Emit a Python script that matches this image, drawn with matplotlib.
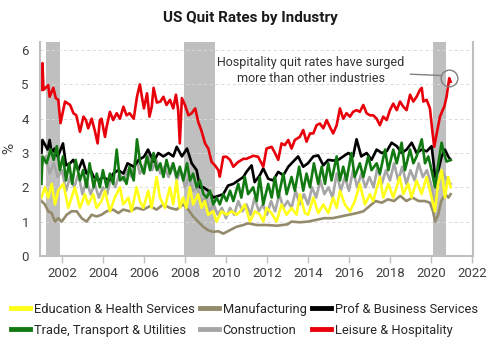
import matplotlib
matplotlib.use("Agg")
import matplotlib.pyplot as plt

plt.rcParams["font.family"] = ["Roboto", "DejaVu Sans"]

# (year, quit rate %)
leisure = [(2001.0, 4.84), (2001.05, 5.62), (2001.1, 4.84), (2001.33, 4.98), (2001.4, 4.64), (2001.58, 4.9),
           (2001.7, 4.6), (2001.82, 4.55), (2001.93, 3.87), (2002.15, 4.5), (2002.4, 4.4), (2002.56, 4.16),
           (2002.7, 4.1), (2002.88, 3.62), (2003.05, 4.06), (2003.17, 3.96), (2003.28, 3.72), (2003.45, 4.0),
           (2003.6, 3.66), (2003.74, 3.28), (2003.85, 3.96), (2003.93, 4.0), (2004.1, 3.47), (2004.18, 3.76),
           (2004.34, 4.2), (2004.5, 3.96), (2004.67, 4.16), (2004.83, 4.0), (2005.0, 4.35), (2005.15, 4.1),
           (2005.3, 4.16), (2005.5, 4.0), (2005.66, 4.64), (2005.8, 5.0), (2005.9, 4.64), (2006.0, 4.3),
           (2006.15, 4.74), (2006.27, 4.06), (2006.38, 4.35), (2006.47, 4.9), (2006.63, 4.47), (2006.8, 4.5),
           (2006.95, 4.64), (2007.1, 4.4), (2007.27, 4.55), (2007.43, 4.3), (2007.56, 4.7), (2007.67, 4.25),
           (2007.75, 3.28), (2007.85, 4.6), (2008.0, 4.4), (2008.17, 4.1), (2008.33, 4.16), (2008.5, 4.3),
           (2008.65, 3.9), (2008.8, 3.66), (2008.98, 3.28), (2009.14, 3.13), (2009.3, 2.74), (2009.46, 2.64),
           (2009.63, 2.5), (2009.7, 2.31), (2009.87, 2.89), (2010.03, 2.89), (2010.2, 2.8), (2010.36, 2.6),
           (2010.6, 2.74), (2010.85, 2.83), (2011.0, 2.83), (2011.33, 2.92), (2011.57, 2.89), (2011.82, 2.6),
           (2011.98, 3.13), (2012.23, 3.18), (2012.39, 3.0), (2012.55, 2.8), (2012.71, 3.28), (2012.87, 3.23),
           (2013.04, 3.38), (2013.2, 3.13), (2013.36, 3.38), (2013.6, 3.47), (2013.77, 3.67), (2013.93, 3.33),
           (2014.1, 3.57), (2014.26, 3.57), (2014.42, 3.81), (2014.58, 3.86), (2014.75, 3.72), (2014.91, 3.96),
           (2015.07, 3.76), (2015.23, 3.57), (2015.4, 3.81), (2015.56, 4.3), (2015.72, 4.0), (2015.88, 4.16),
           (2016.05, 4.06), (2016.2, 4.2), (2016.37, 4.25), (2016.53, 4.2), (2016.7, 4.4), (2016.86, 4.16),
           (2017.02, 4.1), (2017.18, 4.1), (2017.35, 4.0), (2017.51, 3.81), (2017.67, 4.06), (2017.84, 3.96),
           (2018.0, 4.25), (2018.16, 4.44), (2018.33, 4.25), (2018.49, 4.5), (2018.65, 4.35), (2018.81, 4.25),
           (2018.98, 4.7), (2019.14, 4.5), (2019.3, 4.64), (2019.46, 4.84), (2019.55, 4.9), (2019.63, 4.5),
           (2019.79, 4.55), (2019.95, 4.3), (2020.08, 3.57), (2020.16, 3.18), (2020.28, 3.57), (2020.44, 4.06),
           (2020.57, 4.25), (2020.65, 4.35), (2020.76, 4.64), (2020.89, 5.18), (2020.96, 5.08)]

prof_business = [(2001.0, 3.0), (2001.05, 3.38), (2001.3, 3.1), (2001.4, 3.38), (2001.5, 3.0), (2001.64, 3.13),
                 (2001.8, 2.89), (2002.05, 3.28), (2002.2, 2.64), (2002.4, 2.7), (2002.55, 2.8), (2002.8, 2.5),
                 (2003.0, 2.8), (2003.2, 2.4), (2003.4, 2.5), (2003.55, 2.3), (2003.8, 2.2), (2004.0, 2.3),
                 (2004.3, 2.2), (2004.5, 2.4), (2004.75, 2.5), (2005.0, 2.4), (2005.2, 2.7), (2005.5, 2.6),
                 (2005.75, 2.8), (2006.0, 2.89), (2006.2, 3.1), (2006.47, 2.75), (2006.7, 3.0), (2006.95, 2.9),
                 (2007.2, 3.0), (2007.43, 2.9), (2007.6, 3.18), (2007.85, 2.9), (2008.1, 3.13), (2008.33, 2.7),
                 (2008.57, 2.5), (2008.73, 2.0), (2008.9, 2.0), (2009.14, 1.9), (2009.38, 1.7), (2009.63, 1.75),
                 (2009.87, 1.8), (2010.1, 2.05), (2010.36, 2.1), (2010.6, 2.2), (2010.85, 2.3), (2011.0, 2.45),
                 (2011.25, 2.64), (2011.4, 2.15), (2011.65, 2.35), (2011.82, 2.55), (2012.06, 2.25), (2012.3, 2.2),
                 (2012.55, 2.45), (2012.8, 2.35), (2013.04, 2.6), (2013.36, 2.8), (2013.52, 2.9), (2013.77, 2.6),
                 (2014.0, 2.7), (2014.26, 2.9), (2014.5, 2.93), (2014.75, 2.64), (2014.99, 2.8), (2015.23, 2.78),
                 (2015.48, 2.8), (2015.72, 2.9), (2015.97, 3.0), (2016.2, 2.9), (2016.37, 3.4), (2016.6, 2.9),
                 (2016.86, 3.0), (2017.1, 2.8), (2017.35, 3.1), (2017.6, 3.0), (2017.84, 3.05), (2018.08, 3.3),
                 (2018.33, 3.2), (2018.57, 3.0), (2018.81, 3.1), (2019.06, 3.3), (2019.3, 3.0), (2019.55, 3.1),
                 (2019.79, 3.05), (2020.03, 3.2), (2020.11, 2.8), (2020.2, 2.3), (2020.36, 2.5), (2020.52, 2.9),
                 (2020.68, 3.1), (2020.84, 2.9), (2020.96, 2.8)]

trade = [(2001.0, 2.1), (2001.05, 2.9), (2001.25, 2.7), (2001.45, 3.1), (2001.6, 2.8), (2001.75, 3.2), (2001.9, 2.5),
         (2002.05, 2.9), (2002.2, 2.2), (2002.35, 2.7), (2002.5, 2.1), (2002.67, 2.8), (2002.88, 2.2), (2003.03, 2.5),
         (2003.2, 2.0), (2003.35, 2.7), (2003.55, 2.0), (2003.7, 2.4), (2003.85, 2.0), (2004.0, 2.5), (2004.18, 2.0),
         (2004.34, 2.4), (2004.5, 2.1), (2004.67, 3.1), (2004.83, 2.2), (2005.0, 2.3), (2005.15, 2.1), (2005.3, 2.6),
         (2005.5, 2.2), (2005.66, 3.4), (2005.82, 2.7), (2006.0, 2.4), (2006.15, 2.9), (2006.3, 2.5), (2006.47, 3.0),
         (2006.63, 2.5), (2006.8, 2.7), (2006.95, 2.3), (2007.1, 2.8), (2007.27, 2.4), (2007.43, 2.7), (2007.6, 2.3),
         (2007.75, 2.6), (2007.92, 2.2), (2008.1, 2.7), (2008.25, 2.2), (2008.4, 2.4), (2008.57, 2.0), (2008.73, 2.2),
         (2008.9, 1.8), (2009.06, 1.7), (2009.22, 1.9), (2009.38, 1.5), (2009.55, 1.7), (2009.7, 1.5), (2009.87, 1.8),
         (2010.03, 1.6), (2010.2, 1.9), (2010.36, 1.6), (2010.6, 2.1), (2010.75, 1.7), (2010.92, 2.3), (2011.08, 1.8),
         (2011.33, 2.0), (2011.5, 1.6), (2011.65, 2.3), (2011.82, 1.5), (2012.06, 2.1), (2012.23, 1.7), (2012.39, 2.3),
         (2012.55, 1.7), (2012.8, 2.4), (2012.96, 1.8), (2013.2, 2.3), (2013.36, 1.9), (2013.57, 2.6), (2013.77, 1.9),
         (2013.93, 2.4), (2014.1, 2.0), (2014.29, 2.7), (2014.5, 2.1), (2014.67, 2.6), (2014.83, 2.1), (2014.99, 2.7),
         (2015.15, 2.2), (2015.4, 2.9), (2015.56, 2.2), (2015.72, 2.6), (2015.88, 2.2), (2016.12, 3.0), (2016.28, 2.3),
         (2016.53, 2.7), (2016.7, 2.3), (2016.94, 2.9), (2017.1, 2.5), (2017.35, 2.7), (2017.51, 2.4), (2017.76, 3.1),
         (2017.92, 2.5), (2018.16, 3.1), (2018.33, 2.7), (2018.57, 3.3), (2018.73, 2.5), (2018.98, 3.1), (2019.14, 2.7),
         (2019.3, 2.9), (2019.55, 3.4), (2019.71, 2.7), (2019.87, 2.9), (2020.03, 2.5), (2020.2, 2.0), (2020.36, 2.7),
         (2020.52, 3.3), (2020.63, 3.0), (2020.76, 2.75), (2020.96, 2.8)]

construction = [(2001.0, 2.6), (2001.2, 2.9), (2001.4, 2.4), (2001.6, 2.7), (2001.8, 2.3), (2002.0, 2.5), (2002.2, 1.9),
                (2002.4, 2.3), (2002.6, 2.0), (2002.8, 2.4), (2003.0, 1.8), (2003.2, 2.2), (2003.4, 1.8), (2003.6, 2.1),
                (2003.8, 1.7), (2004.0, 2.0), (2004.2, 1.8), (2004.4, 2.3), (2004.6, 2.0), (2004.8, 2.4), (2005.0, 2.2),
                (2005.2, 2.5), (2005.4, 2.3), (2005.6, 2.9), (2005.8, 2.4), (2006.0, 2.6), (2006.2, 3.0), (2006.4, 2.5),
                (2006.6, 2.8), (2006.8, 2.4), (2007.0, 2.6), (2007.2, 2.3), (2007.4, 2.7), (2007.6, 2.2), (2007.8, 2.5),
                (2008.0, 2.0), (2008.2, 2.3), (2008.4, 1.9), (2008.6, 2.0), (2008.8, 1.6), (2009.0, 1.7), (2009.2, 1.3),
                (2009.4, 1.5), (2009.6, 1.2), (2009.8, 1.4), (2010.0, 1.1), (2010.2, 1.4), (2010.4, 1.2), (2010.6, 1.6),
                (2010.8, 1.3), (2011.0, 1.5), (2011.2, 1.2), (2011.4, 1.7), (2011.6, 1.3), (2011.8, 1.5), (2012.0, 1.2),
                (2012.2, 1.6), (2012.4, 1.3), (2012.6, 1.8), (2012.8, 1.4), (2013.0, 1.6), (2013.2, 1.4), (2013.4, 1.9),
                (2013.6, 1.5), (2013.8, 1.8), (2014.0, 1.5), (2014.2, 2.0), (2014.4, 1.7), (2014.6, 2.2), (2014.8, 1.8),
                (2015.0, 2.0), (2015.2, 1.7), (2015.4, 2.4), (2015.6, 1.9), (2015.8, 2.3), (2016.0, 1.9), (2016.2, 2.5),
                (2016.4, 2.0), (2016.6, 2.4), (2016.8, 2.0), (2017.0, 2.3), (2017.2, 2.0), (2017.4, 2.6), (2017.6, 2.1),
                (2017.8, 2.5), (2018.0, 2.2), (2018.2, 2.7), (2018.4, 2.2), (2018.6, 2.6), (2018.8, 2.1), (2019.0, 2.5),
                (2019.2, 2.2), (2019.4, 2.7), (2019.6, 2.3), (2019.8, 2.5), (2020.0, 2.1), (2020.2, 1.5), (2020.4, 2.3),
                (2020.6, 2.4), (2020.8, 2.2), (2020.96, 2.1)]

manufacturing = [(2001.0, 1.6), (2001.17, 1.5), (2001.33, 1.3), (2001.5, 1.25), (2001.66, 1.0), (2001.82, 1.1),
                 (2001.99, 1.0), (2002.23, 1.2), (2002.47, 1.3), (2002.72, 1.3), (2002.96, 1.1), (2003.2, 1.0),
                 (2003.45, 1.2), (2003.69, 1.15), (2003.93, 1.2), (2004.18, 1.3), (2004.5, 1.35), (2004.75, 1.25),
                 (2004.99, 1.35), (2005.32, 1.3), (2005.64, 1.4), (2005.97, 1.35), (2006.29, 1.45), (2006.62, 1.35),
                 (2006.94, 1.5), (2007.26, 1.4), (2007.59, 1.35), (2007.91, 1.5), (2008.16, 1.35), (2008.4, 1.15),
                 (2008.64, 1.0), (2008.89, 0.85), (2009.13, 0.75), (2009.38, 0.7), (2009.62, 0.72), (2009.87, 0.65),
                 (2010.19, 0.75), (2010.52, 0.85), (2010.84, 0.9), (2011.08, 0.95), (2011.5, 0.9), (2012.0, 0.9),
                 (2012.5, 0.88), (2013.0, 0.92), (2013.2, 1.0), (2013.6, 0.98), (2014.0, 1.0), (2014.4, 1.05),
                 (2014.8, 1.1), (2015.2, 1.1), (2015.6, 1.15), (2016.0, 1.2), (2016.4, 1.25), (2016.7, 1.3),
                 (2017.0, 1.45), (2017.3, 1.6), (2017.6, 1.55), (2017.9, 1.65), (2018.2, 1.6), (2018.5, 1.75),
                 (2018.8, 1.6), (2019.1, 1.7), (2019.4, 1.6), (2019.7, 1.6), (2019.95, 1.55), (2020.1, 1.3),
                 (2020.2, 1.0), (2020.35, 1.2), (2020.5, 1.6), (2020.7, 1.8), (2020.85, 1.7), (2020.96, 1.8)]

education = [(2001.0, 1.7), (2001.17, 2.0), (2001.33, 1.7), (2001.5, 2.1), (2001.66, 1.5), (2001.82, 1.9), (2002.07, 2.1),
             (2002.31, 1.4), (2002.47, 1.7), (2002.63, 2.0), (2002.88, 1.4), (2003.12, 1.8), (2003.28, 1.5), (2003.53, 1.8),
             (2003.69, 1.4), (2003.93, 1.6), (2004.1, 1.9), (2004.34, 1.3), (2004.58, 1.7), (2004.83, 2.0), (2004.99, 1.5),
             (2005.24, 1.7), (2005.4, 1.3), (2005.64, 2.0), (2005.8, 1.6), (2005.97, 1.4), (2006.21, 1.9), (2006.37, 1.4),
             (2006.62, 2.3), (2006.78, 1.7), (2007.02, 1.4), (2007.26, 2.0), (2007.43, 1.5), (2007.59, 2.2), (2007.75, 1.4),
             (2007.91, 1.7), (2008.07, 1.4), (2008.24, 2.0), (2008.4, 1.5), (2008.64, 1.8), (2008.81, 1.4), (2008.97, 1.6),
             (2009.13, 1.2), (2009.38, 1.3), (2009.54, 1.0), (2009.78, 1.3), (2010.03, 1.2), (2010.27, 1.3), (2010.52, 1.2),
             (2010.7, 1.3), (2010.92, 1.5), (2011.17, 1.0), (2011.41, 1.3), (2011.66, 1.2), (2011.82, 1.0), (2011.98, 1.4),
             (2012.22, 1.25), (2012.47, 1.0), (2012.71, 1.5), (2012.96, 1.2), (2013.2, 1.4), (2013.44, 1.2), (2013.61, 1.8),
             (2013.85, 1.25), (2014.01, 1.2), (2014.26, 1.7), (2014.5, 1.25), (2014.75, 1.5), (2014.99, 1.25), (2015.23, 1.7),
             (2015.4, 1.4), (2015.56, 1.9), (2015.8, 1.5), (2016.05, 1.3), (2016.29, 1.6), (2016.53, 2.1), (2016.78, 1.5),
             (2017.02, 1.8), (2017.18, 1.6), (2017.51, 2.3), (2017.67, 1.7), (2017.92, 2.1), (2018.16, 1.7), (2018.48, 2.3),
             (2018.65, 1.8), (2018.89, 2.1), (2019.05, 1.7), (2019.3, 2.2), (2019.54, 1.8), (2019.79, 2.3), (2020.03, 1.7),
             (2020.19, 1.3), (2020.35, 2.1), (2020.52, 2.5), (2020.68, 1.7), (2020.84, 2.3), (2020.96, 2.0)]

recessions = [(2001.22, 2001.9), (2007.95, 2009.45), (2020.1, 2020.75)]

# drawing order: bottom first
series = [
    ("Construction", construction, "#a6a6a6"),
    ("Manufacturing", manufacturing, "#948a6c"),
    ("Prof & Business Services", prof_business, "#000000"),
    ("Trade, Transport & Utilities", trade, "#137a13"),
    ("Education & Health Services", education, "#ffff1a"),
    ("Leisure & Hospitality", leisure, "#e8000b"),
]
legend_order = ["Education & Health Services", "Trade, Transport & Utilities", "Manufacturing",
                "Construction", "Prof & Business Services", "Leisure & Hospitality"]

fig = plt.figure(figsize=(5.0, 3.52), dpi=100)
ax = fig.add_axes([0.08, 0.273, 0.866, 0.609])

for start, end in recessions:
    ax.axvspan(start, end, color="#bfbfbf", lw=0, zorder=0)

lines = {}
for name, pts, color in series:
    xs = [p[0] for p in pts]
    ys = [p[1] for p in pts]
    (ln,) = ax.plot(xs, ys, color=color, lw=1.9, label=name, zorder=2)
    lines[name] = ln

ax.set_xlim(2000.93, 2022.05)
ax.set_ylim(0, 6.25)
ax.set_xticks(range(2002, 2023, 2))
ax.set_yticks(range(0, 7))
ax.grid(axis="y", color="#d9d9d9", ls=(0, (3, 3)), lw=0.7, zorder=1)
for side in ("left", "bottom", "right"):
    ax.spines[side].set_color("#bfbfbf")
    ax.spines[side].set_linewidth(1.5)
ax.spines["top"].set_visible(False)
ax.tick_params(axis="x", colors="#bfbfbf", length=5, width=1, labelcolor="#404040", labelsize=9.5, pad=3)
ax.tick_params(axis="y", length=0, labelcolor="#404040", labelsize=9.5, pad=8)
ax.set_ylabel("%", fontsize=11, color="#404040", labelpad=4)

fig.text(0.5, 0.95, "US Quit Rates by Industry", ha="center", va="center", fontsize=11, fontweight="bold", color="#1a1a1a")

# annotation of the latest hospitality peak
peak_x, peak_y = leisure[-2]
ax.plot([peak_x], [peak_y], marker="o", ms=12, mfc="none", mec="#808080", mew=1.0, zorder=5)
ax.annotate("Hospitality quit rates have surged\nmore than other industries",
            xy=(peak_x - 0.4, peak_y + 0.08), xytext=(2014.15, 5.42), ha="center", va="center",
            fontsize=9, color="#333333", linespacing=1.3,
            arrowprops=dict(arrowstyle="-", color="#808080", lw=1.0, shrinkA=2, shrinkB=0))

handles = [lines[n] for n in legend_order]
leg = fig.legend(handles, legend_order, loc="center left", bbox_to_anchor=(0.012, 0.091), ncol=3, frameon=False,
                 fontsize=9.3, handlelength=1.45, handletextpad=0.28, columnspacing=0.45, labelspacing=0.62,
                 borderaxespad=0.0, labelcolor="#262626")
for h in leg.legend_handles:
    h.set_linewidth(3.5)

fig.savefig("out.png", dpi=100)
